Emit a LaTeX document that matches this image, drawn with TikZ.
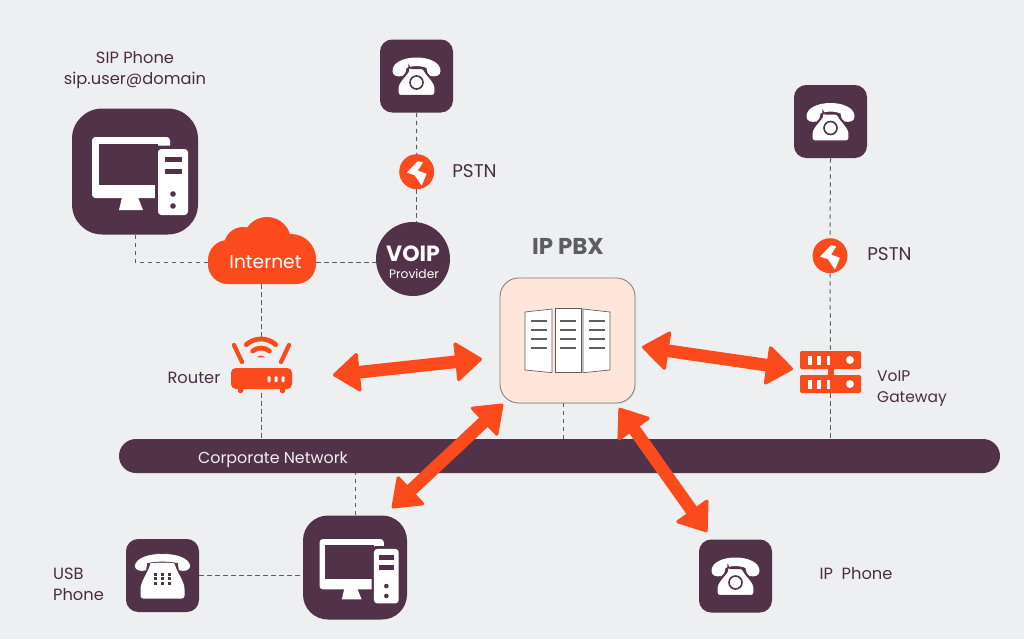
\documentclass[tikz,border=0pt]{standalone}
\usepackage{fontspec}
\setmainfont{Poppins}
\usepackage{tikz}
\usetikzlibrary{arrows.meta,shadows}

\definecolor{plum}{HTML}{523248}
\definecolor{flame}{HTML}{FB4B1C}
\definecolor{paper}{HTML}{EEEFF1}
\definecolor{peach}{HTML}{FFE5DA}
\definecolor{inkgray}{HTML}{5E5E60}

\tikzset{
  iconbox/.style={fill=plum, inner sep=0pt, minimum size=#1*0.75pt, rounded corners=#1*0.125pt},
  deskbox/.style={fill=plum, inner sep=0pt, minimum size=#1*0.75pt, rounded corners=#1*0.18pt},
  boltdisc/.style={circle, fill=flame, inner sep=0pt, minimum size=26.25pt},
  label/.style={text=plum!90!black, font=\fontsize{12.2}{15.5}\selectfont, align=left, inner sep=0pt},
  wire/.style={draw=inkgray, line width=0.75pt, dash pattern=on 3.2pt off 2.8pt},
  bigarrow/.style={color=flame, line width=9.5pt, {Triangle[width=31pt,length=21pt,line width=2.5pt,round]}-{Triangle[width=31pt,length=21pt,line width=2.5pt,round]}},
  pics/desktop/.style={code={
    \fill[white, rounded corners=2.5pt] (-43,-34.5) rectangle (35,26.5);
    \fill[plum] (-36,-27.5) rectangle (23,13.5);
    \fill[white] (-13,26) -- (3,26) -- (8,38.5) -- (-16,38.5) -- cycle;
    \fill[plum, rounded corners=3pt] (20,-26) rectangle (56,46);
    \fill[white, rounded corners=2.5pt] (23,-22.5) rectangle (53,43.5);
    \fill[plum] (29.5,-15) rectangle (47,-9.5);
    \fill[plum] (29.5,-3) rectangle (47,2.5);
    \fill[plum] (38,22.5) circle (2.8);
    \fill[plum] (38,34.5) circle (2.8);
  }},
  pics/deskphone/.style={code={
    \fill[white] (-24,-5) .. controls (-24,-14) and (-12,-18.5) .. (0,-18.5) .. controls (12,-18.5) and (24,-14) .. (24,-5) .. controls (24,0) and (19,1) .. (14,0) .. controls (11,-1) and (11,-4) .. (10,-8) .. controls (5,-10.5) and (-5,-10.5) .. (-10,-8) .. controls (-11,-4) and (-11,-1) .. (-14,0) .. controls (-19,1) and (-24,0) .. (-24,-5) -- cycle;
    \filldraw[fill=white, draw=plum, line width=0.9pt, rounded corners=2pt] (-7.5,-7.5) -- (7.5,-7.5) .. controls (9,-2) and (18.5,6) .. (18.5,14) -- (18.5,19.5) -- (-18.5,19.5) -- (-18.5,14) .. controls (-18.5,6) and (-9,-2) .. (-7.5,-7.5) -- cycle;
    \filldraw[fill=white, draw=plum, line width=1.2pt] (0,6.5) circle (6.5);
  }},
  pics/keyphone/.style={code={
    \fill[white, rounded corners=2pt] (-12,-13) -- (12,-13) .. controls (14,-4) and (22,6) .. (22,16) -- (22,23) -- (-22,23) -- (-22,16) .. controls (-22,6) and (-14,-4) .. (-12,-13) -- cycle;
    \filldraw[fill=white, draw=plum, line width=0.5pt] (-28,-9) .. controls (-28,-18) and (-14,-22) .. (0,-22) .. controls (14,-22) and (28,-18) .. (28,-9) .. controls (28,-5) and (22,-3) .. (16,-5) -- (15,-12) .. controls (6,-14) and (-6,-14) .. (-15,-12) -- (-16,-5) .. controls (-22,-3) and (-28,-5) .. (-28,-9) -- cycle;
    \foreach \dotx in {-7,0,7}
      \foreach \doty in {-1.5,3.2,8}
        \fill[plum] (\dotx-1.7,\doty-1.5) rectangle (\dotx+1.7,\doty+1.5);
  }},
  pics/bolt/.style={code={
    \fill[white, rounded corners=0.4pt] (1,-10.5) -- (-10,1) -- (-2,3.5) -- (5,14) -- (10,2) -- (1,-1) -- (6.5,-9.5) -- cycle;
  }},
  pics/page/.style={code={
    \foreach \liney in {0,9,18,27}
      \draw[inkgray, line width=2.2pt] (0,\liney) -- (16,\liney);
  }},
}

\begin{document}
\begin{tikzpicture}[x=0.75pt,y=-0.75pt]
    \useasboundingbox (0,0) rectangle (1024,639);
    \fill[paper] (0,0) rectangle (1024,639);

    % cloud lobes sit under the cloud node
    \fill[flame] (229,263) circle (21) (243,246) circle (19) (267,241) circle (24) (291,259) circle (25);
    \node[fill=flame, inner sep=0pt, minimum width=81pt, minimum height=33pt, rounded corners=15pt] (cloud) at (262,262){};
    \node[text=white, inner sep=0pt, font=\fontsize{14}{17}\selectfont] (cloudtext) at (265.5,262){Internet};

    \node[deskbox=126] (sip) at (135,171.5){};
    \pic at (135,171.5) {desktop};
    \node[iconbox=73] (phonetop) at (416.5,76){};
    \pic at (416.5,76) {deskphone};
    \node[iconbox=73] (phoneright) at (830.5,121.5){};
    \pic at (830.5,121.5) {deskphone};
    \node[iconbox=73] (ipphone) at (735.5,576){};
    \pic at (735.5,576) {deskphone};
    \node[iconbox=73] (usbphone) at (162.5,575.5){};
    \pic at (162.5,575.5) {keyphone};
    \node[deskbox=104] (desk) at (355,567.5){};
    \pic[scale=0.825] at (355,567.5) {desktop};

    \node[boltdisc] (pstntop) at (416.7,171.7){};
    \pic at (416.7,171.7) {bolt};
    \node[boltdisc] (pstnright) at (830,255.7){};
    \pic at (830,255.7) {bolt};

    \node[circle, fill=plum, inner sep=0pt, minimum size=55.5pt] (voip) at (413,259){};
    \node[text=white, inner sep=0pt, font=\fontsize{16.5}{17}\selectfont\bfseries] (voiptext) at (413,254){VOIP};
    \node[text=white, inner sep=0pt, font=\fontsize{9.2}{10}\selectfont] (providertext) at (414,274){Provider};

    \node[draw=inkgray!80!peach, fill=peach, line width=0.6pt, inner sep=0pt, minimum width=101.25pt, minimum height=93.75pt, rounded corners=14pt, drop shadow={opacity=0.12,shadow xshift=0.8pt,shadow yshift=-0.8pt}] (pbx) at (567.5,340.5){};
    \filldraw[fill=white, draw=inkgray, line width=0.5pt] (525,312) -- (552,309) -- (552,372.7) -- (525,370) -- cycle;
    \filldraw[fill=white, draw=inkgray, line width=0.5pt] (555,308.5) -- (581,308.5) -- (581,372.5) -- (555,372.5) -- cycle;
    \filldraw[fill=white, draw=inkgray, line width=0.5pt] (583,309) -- (610,312) -- (610,370) -- (583,372.7) -- cycle;
    \pic at (531,321) {page};
    \pic at (560,321) {page};
    \pic at (589,321) {page};

    \node[fill=plum, inner sep=0pt, minimum width=660.75pt, minimum height=25.5pt, rounded corners=12.75pt] (bar) at (559.5,456){};
    \node[text=paper, inner sep=0pt, font=\fontsize{11.9}{15}\selectfont] (bartext) at (273,459.5){Corporate Network};

    % router: antennas, wifi arcs and case
    \node[inner sep=0pt, minimum width=45.75pt, minimum height=42pt] (router) at (261.5,365){};
    \draw[flame, line width=3.2pt, line cap=round] (242,362) -- (234,345);
    \draw[flame, line width=3.2pt, line cap=round] (281,362) -- (289,345);
    \draw[flame, line width=3.6pt, line cap=round] (261,361)+(-132:22) arc[start angle=-132, end angle=-48, radius=22];
    \draw[flame, line width=3.6pt, line cap=round] (261,361)+(-130:13) arc[start angle=-130, end angle=-50, radius=13];
    \fill[flame] (261,361)+(-140:5.5) arc[start angle=-140, end angle=-40, radius=5.5] -- cycle;
    \fill[flame, rounded corners=3.5pt] (231,368) rectangle (292,389);
    \fill[flame, rounded corners=1pt] (238,387) rectangle (243,393);
    \fill[flame, rounded corners=1pt] (280,387) rectangle (285,393);
    \foreach \ledx in {269,276,283}
      \fill[white, rounded corners=1pt] (\ledx-1.5,376) rectangle (\ledx+1.5,382.5);

    % gateway: two stacked racks
    \node[inner sep=0pt, minimum width=45.75pt, minimum height=31.5pt] (gateway) at (830.5,372){};
    \fill[flame] (827.5,368) rectangle (833.5,376);
    \foreach \racky in {351,375} {
      \fill[flame, rounded corners=1pt] (800,\racky) rectangle (861,\racky+18);
      \foreach \slotx in {808,817,826.5}
        \fill[white] (\slotx,\racky+5) rectangle (\slotx+3.7,\racky+14);
      \fill[white] (850,\racky+9) circle (4);
    }

    \coordinate (pbxtap) at (563,403);
    \path[wire] (sip.south) |- (cloud.west);
    \path[wire] (cloud.east) edge (voip.west |- cloud.east);
    \path[wire] (cloud.south -| router.north) edge (router.north);
    \path[wire] (router.south) edge (router.south |- bar.north);
    \path[wire] (phonetop.south) edge (pstntop.north);
    \path[wire] (pstntop.south) edge (voip.north -| pstntop.south);
    \path[wire] (phoneright.south) edge (pstnright.north);
    \path[wire] (pstnright.south) edge (gateway.north);
    \path[wire] (gateway.south) edge (gateway.south |- bar.north);
    \path[wire] (pbxtap) edge (pbxtap |- bar.north);
    \path[wire] (desk.north) edge (desk.north |- bar.south);
    \path[wire] (usbphone.east) edge (desk.west |- usbphone.east);

    \coordinate (routerend) at (333,375);
    \coordinate (pbxleft) at (482,359);
    \coordinate (pbxright) at (642,347);
    \coordinate (gatewayend) at (793,369);
    \coordinate (deskend) at (392,508);
    \coordinate (pbxlower) at (503,404);
    \coordinate (pbxbelow) at (619,408);
    \coordinate (ipend) at (707,532);
    \draw[bigarrow] (routerend) -- (pbxleft);
    \draw[bigarrow] (pbxright) -- (gatewayend);
    \draw[bigarrow] (deskend) -- (pbxlower);
    \draw[bigarrow] (pbxbelow) -- (ipend);

    \node[label, align=center] (siplabel) at (135,70){SIP Phone\\sip.user@domain};
    \node[label, font=\fontsize{13.8}{16}\selectfont] (pstnlabeltop) at (474.5,171){PSTN};
    \node[label, font=\fontsize{13.8}{16}\selectfont] (pstnlabelright) at (889.5,254){PSTN};
    \node[label, font=\fontsize{17.2}{18}\selectfont\bfseries, text=inkgray] (pbxlabel) at (568,246){IP PBX};
    \node[label] (routerlabel) at (194,378){Router};
    \node[label, font=\fontsize{11.6}{15.5}\selectfont] (gatewaylabel) at (912,388.5){VoIP\\Gateway};
    \node[label] (usblabel) at (78.5,584){USB\\Phone};
    \node[label] (iplabel) at (856,574){IP\ \ Phone};
\end{tikzpicture}
\end{document}
